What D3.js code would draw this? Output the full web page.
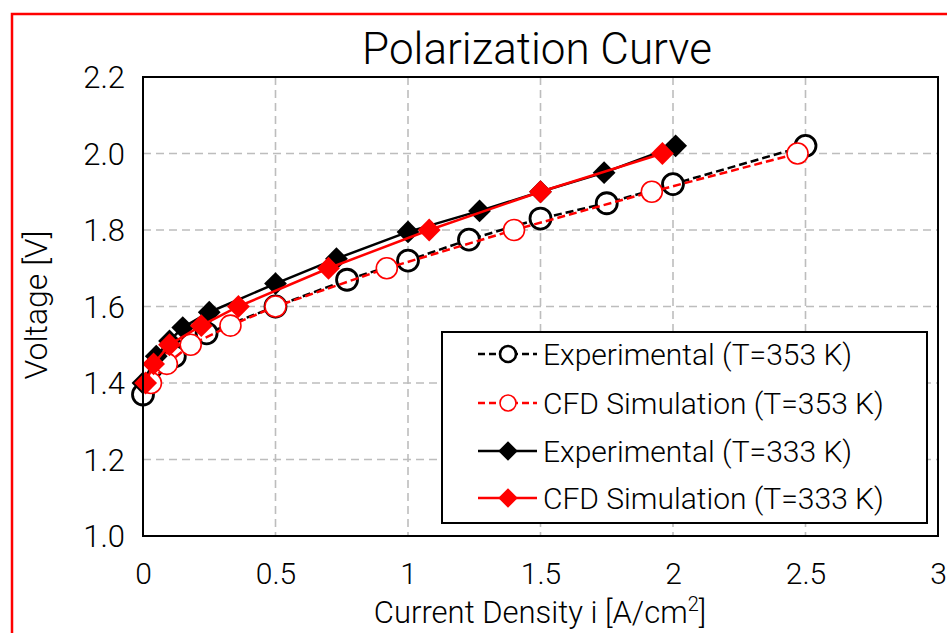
<!DOCTYPE html>
<html>
<head>
<meta charset="utf-8">
<script src="https://cdn.jsdelivr.net/npm/d3@7"></script>
<style>
  html, body { margin: 0; padding: 0; background: #fff; }
  svg { display: block; }
  text { font-family: "Roboto", "Liberation Sans", sans-serif; font-weight: 300; fill: #000; }
</style>
</head>
<body>
<svg id="chart" width="947" height="633"></svg>
<script>
// Current density [A/cm2] and cell voltage [V] for each series
const exp353I = [0, 0.12, 0.24, 0.5, 0.77, 1.0, 1.23, 1.5, 1.75, 2.0, 2.5];
const exp353V = [1.37, 1.47, 1.53, 1.6, 1.67, 1.72, 1.775, 1.83, 1.87, 1.92, 2.02];

const cfd353I = [0.03, 0.09, 0.18, 0.33, 0.5, 0.92, 1.4, 1.92, 2.47];
const cfd353V = [1.4, 1.45, 1.5, 1.55, 1.6, 1.7, 1.8, 1.9, 2.0];

const exp333I = [0, 0.05, 0.1, 0.15, 0.25, 0.5, 0.73, 1.0, 1.27, 1.5, 1.74, 2.01];
const exp333V = [1.4, 1.47, 1.51, 1.545, 1.585, 1.66, 1.725, 1.795, 1.85, 1.9, 1.95, 2.02];

const cfd333I = [0.01, 0.04, 0.1, 0.22, 0.36, 0.7, 1.08, 1.5, 1.96];
const cfd333V = [1.4, 1.45, 1.5, 1.55, 1.6, 1.7, 1.8, 1.9, 2.0];

const xTicks = [0, 0.5, 1, 1.5, 2, 2.5, 3];
const yTicks = [1.0, 1.2, 1.4, 1.6, 1.8, 2.0, 2.2];

const seriesNames = [
  "Experimental (T=353 K)",
  "CFD Simulation (T=353 K)",
  "Experimental (T=333 K)",
  "CFD Simulation (T=333 K)"
];

const series = [
  { name: seriesNames[0], i: exp353I, v: exp353V, color: "#000", dashed: true,  marker: "circle" },
  { name: seriesNames[1], i: cfd353I, v: cfd353V, color: "#ff0000", dashed: true,  marker: "circle" },
  { name: seriesNames[2], i: exp333I, v: exp333V, color: "#000", dashed: false, marker: "diamond" },
  { name: seriesNames[3], i: cfd333I, v: cfd333V, color: "#ff0000", dashed: false, marker: "diamond" }
];

const svg = d3.select("#chart");
const W = 947, H = 633;
const plot = { left: 143, top: 77, right: 938, bottom: 536 };

const x = d3.scaleLinear().domain([0, 3]).range([plot.left, plot.right]);
const y = d3.scaleLinear().domain([1.0, 2.2]).range([plot.bottom, plot.top]);

// outer red frame
svg.append("rect")
  .attr("x", 12).attr("y", 14)
  .attr("width", W).attr("height", H)
  .attr("fill", "none").attr("stroke", "#ff0000").attr("stroke-width", 2.5);

// title
svg.append("text")
  .attr("x", 537).attr("y", 64)
  .attr("text-anchor", "middle")
  .style("font-size", "44px")
  .text("Polarization Curve");

// dashed grid
const grid = svg.append("g");
grid.selectAll("line.v").data(xTicks.slice(1, -1)).enter().append("line")
  .attr("x1", d => x(d)).attr("x2", d => x(d))
  .attr("y1", plot.top).attr("y2", plot.bottom)
  .attr("stroke", "#bdbdbd").attr("stroke-width", 1.6).attr("stroke-dasharray", "8,5");
grid.selectAll("line.h").data(yTicks.slice(1, -1)).enter().append("line")
  .attr("x1", plot.left).attr("x2", plot.right)
  .attr("y1", d => y(d)).attr("y2", d => y(d))
  .attr("stroke", "#bdbdbd").attr("stroke-width", 1.6).attr("stroke-dasharray", "8,5");

// axes (labels only, frame drawn separately)
const xAxis = d3.axisBottom(x).tickValues(xTicks).tickSize(0).tickPadding(0)
  .tickFormat(d => d3.format("")(d));
const gx = svg.append("g").attr("transform", `translate(0,${plot.bottom})`).call(xAxis);
gx.select(".domain").remove();
gx.selectAll("text").attr("dy", null).attr("y", 48)
  .style("font-size", "30px").style("font-family", null);

const yAxis = d3.axisLeft(y).tickValues(yTicks).tickSize(0).tickPadding(0)
  .tickFormat(d3.format(".1f"));
const gy = svg.append("g").attr("transform", `translate(${plot.left - 18},0)`).call(yAxis);
gy.select(".domain").remove();
gy.selectAll("text").attr("dy", "0.35em").attr("x", 0)
  .style("font-size", "31px").style("font-family", null);

// axis titles
const xt = svg.append("text")
  .attr("x", 540).attr("y", 623)
  .attr("text-anchor", "middle")
  .style("font-size", "31px");
xt.append("tspan").text("Current Density i [A/cm");
xt.append("tspan").attr("dy", -12).style("font-size", "20px").text("2");
xt.append("tspan").attr("dy", 12).text("]");

svg.append("text")
  .attr("transform", "translate(47,305) rotate(-90)")
  .attr("text-anchor", "middle")
  .style("font-size", "32px")
  .text("Voltage [V]");

// series
const line = d3.line();
const diamond = d3.symbol().type(d3.symbolSquare).size(260);

function drawMarker(g, s, px, py) {
  if (s.marker === "circle") {
    g.append("circle").attr("cx", px).attr("cy", py).attr("r", 10.5)
      .attr("fill", "#fff").attr("stroke", s.color)
      .attr("stroke-width", s.color === "#000" ? 2.8 : 1.6);
  } else {
    g.append("path").attr("d", diamond())
      .attr("transform", `translate(${px},${py}) rotate(45)`)
      .attr("fill", s.color);
  }
}

series.forEach(s => {
  const g = svg.append("g");
  const pts = s.i.map((d, k) => [x(d), y(s.v[k])]);
  g.append("path").attr("d", line(pts))
    .attr("fill", "none").attr("stroke", s.color).attr("stroke-width", 2.5)
    .attr("stroke-dasharray", s.dashed ? "8,4" : null);
  pts.forEach(p => drawMarker(g, s, p[0], p[1]));
});

// plot frame
svg.append("rect")
  .attr("x", plot.left).attr("y", plot.top)
  .attr("width", plot.right - plot.left).attr("height", plot.bottom - plot.top)
  .attr("fill", "none").attr("stroke", "#000").attr("stroke-width", 2);

// legend
const lg = svg.append("g");
lg.append("rect")
  .attr("x", 442).attr("y", 332).attr("width", 485).attr("height", 191)
  .attr("fill", "#fff").attr("stroke", "#000").attr("stroke-width", 2);
const rowY = [354, 403, 451, 498];
series.forEach((s, k) => {
  const cy = rowY[k];
  lg.append("line").attr("x1", 478).attr("x2", 537).attr("y1", cy).attr("y2", cy)
    .attr("stroke", s.color).attr("stroke-width", 2.5)
    .attr("stroke-dasharray", s.dashed ? "7,4" : null);
  if (s.marker === "circle") {
    lg.append("circle").attr("cx", 508).attr("cy", cy).attr("r", 8)
      .attr("fill", "#fff").attr("stroke", s.color)
      .attr("stroke-width", s.color === "#000" ? 2.6 : 1.6);
  } else {
    lg.append("path").attr("d", d3.symbol().type(d3.symbolSquare).size(190)())
      .attr("transform", `translate(508,${cy}) rotate(45)`).attr("fill", s.color);
  }
  lg.append("text").attr("x", 543).attr("y", cy).attr("dy", "0.36em")
    .style("font-size", "30px").text(s.name);
});
</script>
</body>
</html>
